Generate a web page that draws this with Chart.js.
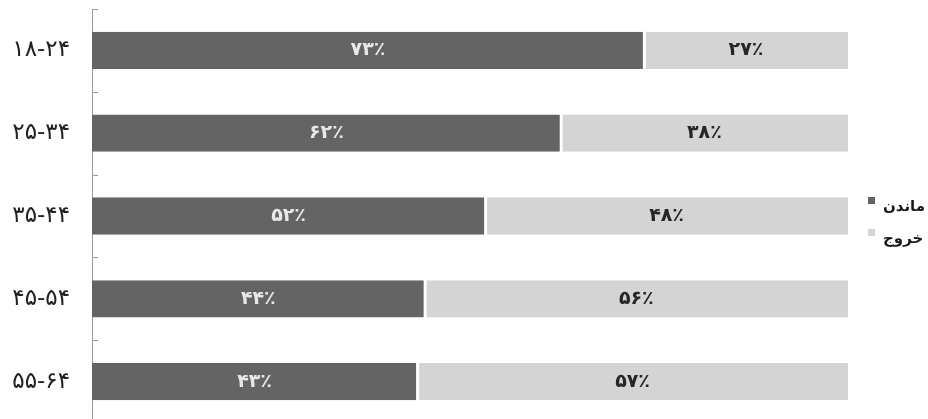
<!DOCTYPE html>
<html>
<head>
<meta charset="utf-8">
<script src="https://cdn.jsdelivr.net/npm/chart.js@4/dist/chart.umd.min.js"></script>
<style>
  html, body { margin: 0; padding: 0; background: #fff; overflow: hidden; }
  canvas { display: block; }
</style>
</head>
<body>
<canvas id="c" width="928" height="423" style="width:928px;height:423px"></canvas>
<script>
const categories = ['۱۸-۲۴', '۲۵-۳۴', '۳۵-۴۴', '۴۵-۵۴', '۵۵-۶۴'];
const stayValues = [73, 62, 52, 44, 43];
const leaveValues = [27, 38, 48, 56, 57];
const seriesNames = ['ماندن', 'خروج'];

const FONT = '"DejaVu Sans", sans-serif';
const faDigits = '۰۱۲۳۴۵۶۷۸۹';
function toFa(n) { return String(n).replace(/[0-9]/g, d => faDigits[+d]); }

const labelPlugin = {
  id: 'barLabels',
  afterDatasetsDraw(chart) {
    const ctx = chart.ctx;
    ctx.save();
    ctx.font = 'bold 19px ' + FONT;
    ctx.textAlign = 'center';
    ctx.textBaseline = 'middle';
    chart.data.datasets.forEach((ds, di) => {
      const meta = chart.getDatasetMeta(di);
      ctx.fillStyle = di === 0 ? '#e8e8e8' : '#262626';
      meta.data.forEach((bar, i) => {
        const cx = (bar.x + bar.base) / 2;
        ctx.fillText(toFa(ds.data[i]) + '٪', cx, bar.y);
      });
    });
    ctx.restore();
  }
};

const axisTicksPlugin = {
  id: 'axisTicks',
  afterDraw(chart) {
    const ctx = chart.ctx;
    const y = chart.scales.y;
    const x0 = chart.chartArea.left;
    ctx.save();
    ctx.strokeStyle = '#999';
    ctx.lineWidth = 1;
    for (let i = 0; i <= categories.length; i++) {
      const py = Math.round(y.getPixelForValue(i - 0.5)) + 0.5;
      ctx.beginPath();
      ctx.moveTo(x0, py);
      ctx.lineTo(x0 + 6, py);
      ctx.stroke();
    }
    ctx.restore();
  }
};

const legendPlugin = {
  id: 'sideLegend',
  afterDraw(chart) {
    const ctx = chart.ctx;
    const ca = chart.chartArea;
    const mid = (ca.top + ca.bottom) / 2;
    const rows = [mid - 9, mid + 23];
    ctx.save();
    ctx.font = 'bold 15px ' + FONT;
    ctx.textAlign = 'left';
    ctx.textBaseline = 'middle';
    chart.data.datasets.forEach((ds, di) => {
      const ty = rows[di];
      ctx.fillStyle = ds.backgroundColor;
      ctx.fillRect(ca.right + 20, ty - 10, 7, 7);
      ctx.fillStyle = '#1a1a1a';
      ctx.fillText(ds.label, ca.right + 35, ty);
    });
    ctx.restore();
  }
};

new Chart(document.getElementById('c'), {
  type: 'bar',
  data: {
    labels: categories,
    datasets: [
      {
        label: seriesNames[0],
        data: stayValues,
        backgroundColor: '#646464',
        borderColor: '#ffffff',
        borderWidth: { left: 0, right: 1, top: 0, bottom: 0 },
        borderSkipped: false,
        barPercentage: 0.45,
        categoryPercentage: 1
      },
      {
        label: seriesNames[1],
        data: leaveValues,
        backgroundColor: '#d4d4d4',
        borderColor: '#ffffff',
        borderWidth: { left: 2, right: 0, top: 0, bottom: 0 },
        borderSkipped: false,
        barPercentage: 0.45,
        categoryPercentage: 1
      }
    ]
  },
  options: {
    indexAxis: 'y',
    responsive: false,
    animation: false,
    devicePixelRatio: 1,
    layout: { padding: { top: 9, right: 80, bottom: 0, left: 0 } },
    plugins: { legend: { display: false }, tooltip: { enabled: false } },
    scales: {
      x: {
        stacked: true,
        min: 0,
        max: 100,
        display: false
      },
      y: {
        stacked: true,
        offset: true,
        grid: { display: false },
        border: { display: true, color: '#999', width: 1 },
        ticks: {
          padding: 14,
          color: '#222',
          font: { family: FONT, size: 23 }
        },
        afterFit(scale) {
          scale.width = 92;
          scale.paddingTop = 0;
          scale.paddingBottom = 0;
        }
      }
    }
  },
  plugins: [labelPlugin, axisTicksPlugin, legendPlugin]
});
</script>
</body>
</html>
